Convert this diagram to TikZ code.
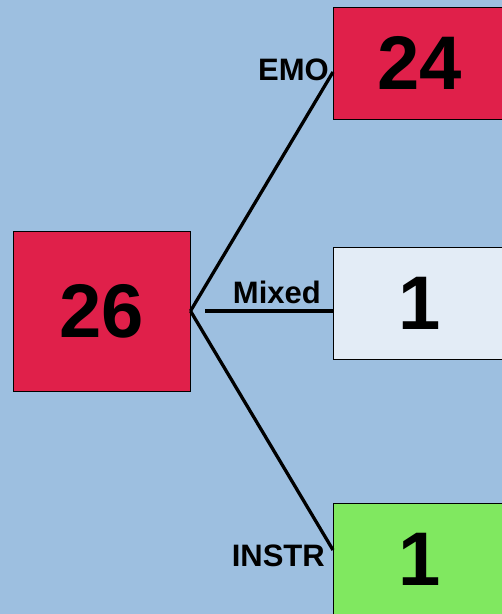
\documentclass[tikz,border=0pt]{standalone}
\usepackage{fontspec}
\setmainfont{Liberation Sans}
\definecolor{bgblue}{HTML}{9DBFE0}
\definecolor{hotred}{HTML}{E0204A}
\definecolor{paleblue}{HTML}{E3ECF6}
\definecolor{limegreen}{HTML}{80E860}
\tikzset{
  countbox/.style={draw=black, line width=1pt, inner sep=0pt,
    font=\fontsize{76}{76}\selectfont\bfseries},
  branch/.style={draw=black, line width=3.3pt},
  branchlabel/.style={inner sep=0pt, font=\fontsize{31}{31}\selectfont\bfseries}
}
\begin{document}
\begin{tikzpicture}[x=1pt, y=-1pt]
  \clip (0,0) rectangle (502,614);
  \useasboundingbox (0,0) rectangle (502,614);
  \fill[bgblue] (0,0) rectangle (502,614);

  % root count
  \node[countbox, fill=hotred, minimum width=177pt, minimum height=160pt] (root) at (101.5,311) {26};

  % child counts
  \node[countbox, fill=hotred, minimum width=174pt, minimum height=112pt] (emo) at (420,63) {24};
  \node[countbox, fill=paleblue, minimum width=174pt, minimum height=112pt] (mixed) at (420,303) {1};
  \node[countbox, fill=limegreen, minimum width=174pt, minimum height=112pt] (instr) at (420,559) {1};

  % branch end points
  \coordinate (fork) at (root.east);
  \coordinate (emoend) at (333,72);
  \coordinate (mixstart) at (205,311);
  \coordinate (mixend) at (333,311);
  \coordinate (instrend) at (333,550);

  \draw[branch] (fork) -- (emoend);
  \draw[branch] (mixstart) -- (mixend);
  \draw[branch] (fork) -- (instrend);

  % branch labels
  \node[branchlabel, anchor=base east] (emolabel) at (329,80) {EMO};
  \node[branchlabel, anchor=base east] (mixlabel) at (321,303) {Mixed};
  \node[branchlabel, anchor=base east] (instrlabel) at (325,566) {INSTR};
\end{tikzpicture}
\end{document}
